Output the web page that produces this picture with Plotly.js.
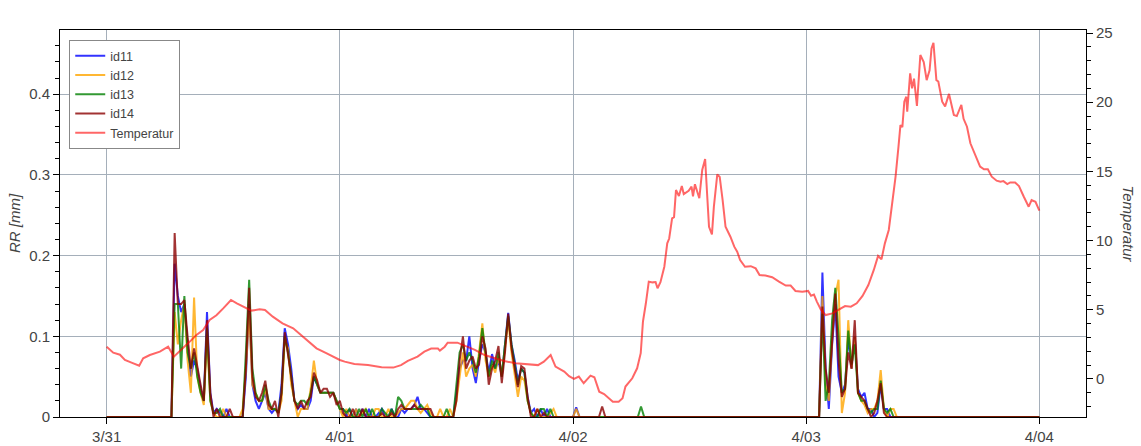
<!DOCTYPE html>
<html>
<head>
<meta charset="utf-8">
<script src="https://cdn.plot.ly/plotly-3.0.1.min.js"></script>
<style>
html, body { margin: 0; padding: 0; background: #fff; }
#chart { width: 1141px; height: 446px; }
</style>
</head>
<body>
<div id="chart"></div>
<script>
// ---- Data (time in hours since 3/31 00:00) ----
const dayTicks = [0, 24, 48, 72, 96];
const dayLabels = ['3/31', '4/01', '4/02', '4/03', '4/04'];

const rainHours = [
  0, 6.67,
  7, 7.33, 7.67, 8, 8.33, 8.67, 9, 9.33, 9.67, 10, 10.33, 10.67, 11, 11.33, 11.67, 12, 12.33, 12.67,
  13, 13.33, 13.67, 14, 14.33, 14.67, 15, 15.33, 15.67, 16, 16.33, 16.67, 17, 17.33, 17.67,
  18, 18.33, 18.67, 19, 19.33, 19.67, 20, 20.33, 20.67, 21, 21.33, 21.67, 22, 22.33, 22.67, 23, 23.33, 23.67, 24,
  24.33, 24.67, 25, 25.33, 25.67, 26, 26.33, 26.67, 27, 27.33, 27.67, 28, 28.33, 28.67, 29, 29.33, 29.67,
  30, 30.33, 30.67, 31, 31.33, 31.67, 32, 32.33, 32.67, 33, 33.33, 33.67, 34, 34.33, 34.67, 35, 35.33, 35.67,
  36, 36.33, 36.67, 37, 37.33, 37.67, 38, 38.33, 38.67, 39, 39.33, 39.67, 40, 40.33, 40.67,
  41, 41.33, 41.67, 42, 42.33, 42.67, 43, 43.33, 43.67, 44, 44.33, 44.67, 45, 45.33, 45.67, 46, 46.33,
  48, 48.33, 48.67, 50.67, 51, 51.33, 54.67, 55, 55.33,
  73.33, 73.67, 74, 74.33, 74.67, 75, 75.33, 75.67, 76, 76.33, 76.67, 77, 77.33, 77.67,
  78, 78.33, 78.67, 79, 79.33, 79.67, 80, 80.33, 80.67, 81, 81.33,
  96
];

const id11 = [
  0, 0,
  .19, .15, .13,  .14, .09, .05,  .07, .06, .035,  .02, .13, .03,  .005, .01, .005,  0, .01, 0,
  0, 0, 0,  0, .05, .14,  .04, .02, .01,  .02, .03, .01,  .005, .01, .005,
  .04, .11, .09,  .06, .02, .01,  .015, .01, .01,  .02, .05, .04,  .03, .03, .03,  .03, .03, .02,  .01,
  .01, 0,  .01, 0, .01,  0, .01, 0,  .01, 0, 0,  .005, .01, 0,  0, .01, 0,
  0, .01, .005,  .01, .01, .015,  .025, .01, .01,  .005, 0, 0,  0, 0, 0,  0, 0, 0,
  .03, .06, .07,  .07, .10, .06,  .042, .07, .09,  .08, .055, .078,  .06, .07, .05,
  .09, .129, .09,  .07, .045, .06,  .055, .025, .005,  .01, 0, .01,  0, .01, 0,  0, 0,
  0, .012, 0,  0, 0, 0,  0, 0, 0,
  0, .179,  .06, .01, .09,  .14, .05, .03,  .04, .10, .06,  .10, .035, .025,
  .03, .01, .01,  0, .005, .04,  .01, .01, 0,  0, 0,
  0
];

const id12 = [
  0, 0,
  .13, .09, .12,  .14, .07, .03,  .148, .05, .03,  .015, .10, .02,  .005, 0, 0,  .01, 0, 0,
  0, 0, 0,  .01, .06, .13,  .04, .03, .02,  .02, .035, .01,  .01, .01, .005,
  .02, .095, .085,  .04, .02, 0,  .01, .01, .01,  .035, .07, .04,  .03, .03, .03,  .03, .03, .02,  .01,
  0, .01,  0, 0, .01,  0, .005, .01,  0, 0, .01,  .01, 0, 0,  .01, 0, 0,
  .005, .01, .01,  .015, .02, .02,  .01, .005, .01,  .015, .005, 0,  0, .01, 0,  0, .01, 0,
  .02, .05, .08,  .05, .06, .065,  .05, .08, .116,  .07, .05, .065,  .055, .075, .05,
  .085, .12, .08,  .055, .025, .05,  .045, .02, .005,  0, .01, 0,  0, 0, .005,  .01, 0,
  0, .01, 0,  0, 0, 0,  0, 0, 0,
  0, .15,  .04, .02, .10,  .15, .17, .005,  .03, .12, .06,  .10, .03, .02,
  .015, .005, .01,  .01, .02, .058,  .01, 0, .01,  .01, 0,
  0
];

const id13 = [
  0, 0,
  .14, .14, .06,  .15, .08, .06,  .08, .05, .03,  .02, .11, .02,  .005, .005, .01,  0, 0, 0,
  0, 0, 0,  0, .08, .17,  .06, .03, .02,  .02, .04, .02,  .01, .01, .005,
  .03, .10, .08,  .05, .02, .015,  .02, .02, .015,  .03, .05, .04,  .03, .03, .03,  .03, .03, .02,  .01,
  .01, .005,  .01, 0, 0,  .01, 0, .01,  0, .01, 0,  0, .01, .005,  0, .01, 0,
  .025, .02, .01,  .01, .01, .01,  .01, .015, .01,  .01, 0, 0,  0, 0, 0,  .01, 0, 0,
  .04, .08, .09,  .07, .08, .07,  .055, .075, .11,  .08, .05, .07,  .06, .08, .05,
  .09, .125, .09,  .065, .04, .06,  .055, .02, .005,  0, 0, .01,  .01, 0, .01,  0, 0,
  0, 0, 0,  0, 0, 0,  0, .013, 0,
  0, .128,  .02, .04, .12,  .16, .10, .03,  .035, .107, .065,  .09, .03, .02,
  .02, .01, .005,  .01, .01, .045,  .01, .005, .01,  0, 0,
  0
];

const id14 = [
  0, 0,
  .228, .14, .14,  .145, .10, .06,  .085, .06, .04,  .02, .12, .03,  0, .01, 0,  0, 0, .01,
  0, 0, 0,  0, .06, .16,  .05, .025, .02,  .03, .045, .015,  .01, .02, 0,
  .03, .105, .08,  .05, .02, .01,  .02, .01, .02,  .025, .055, .045,  .03, .035, .035,  .025, .03, .015,  .02,
  .005, 0,  0, .01, 0,  0, .01, 0,  0, 0, 0,  0, .005, 0,  0, .005, 0,
  .01, .015, .01,  .01, .01, .015,  .01, .01, .01,  .01, .01, 0,  0, 0, 0,  0, 0, 0,
  .02, .07, .10,  .06, .07, .075,  .06, .065, .10,  .085, .04, .06,  .07, .088, .042,
  .08, .128, .085,  .06, .037, .063,  .06, .025, 0,  0, .01, 0,  .005, 0, 0,  0, 0,
  0, 0, 0,  0, .013, 0,  0, 0, 0,
  0, .137,  .06, .03, .10,  .153, .07, .025,  .035, .08, .06,  .12, .03, .025,
  .02, .01, 0,  .005, .02, .042,  .005, 0, 0,  0, 0,
  0
];

const tempHours = [
  0, 0.68, 1.37, 1.88, 2.56, 3.35, 3.76, 4.45, 5.48, 6.33, 6.92, 7.7, 8.56, 9.24, 9.93, 10.6, 11.3, 12.0,
  12.8, 13.4, 14.2, 14.9, 15.75, 16.3, 17.1, 18.1, 19.2, 20.0, 20.7, 21.6, 22.6, 23.3, 24.0,
  24.5, 25.5, 26.9, 28.3, 29.5, 30.3, 31.0, 32.0, 32.7, 33.4, 34.1, 34.3, 34.8, 35.1, 36.1, 36.7,
  37.2, 37.9, 38.9, 39.9, 40.9, 42.1, 43.3, 44.4, 45.0, 45.7, 46.2, 47.1,
  47.6, 48.1, 48.6, 49.1, 49.8, 50.2, 50.7, 51.2, 52.1, 52.7, 53.1, 53.4, 54.1, 54.6, 54.97,
  55.2, 55.5, 55.8, 56.2, 56.5, 56.7, 57.0, 57.4, 57.7, 57.9, 58.2, 58.4, 58.6, 58.9, 59.2, 59.4,
  59.9, 60.2, 60.35, 60.55, 60.8, 61.0, 61.3, 61.6, 61.8, 62.0, 62.3, 62.5, 62.85, 63.1, 63.4, 63.7,
  64.2, 64.6, 64.9, 65.2, 65.7, 66.3, 66.8, 67.2, 67.8, 68.5, 69.2, 69.9, 70.4, 70.9, 71.6, 72.2,
  72.5, 72.8, 73.1, 73.5, 74.0, 74.7, 75.4, 76.0, 76.6, 77.2, 77.8, 78.4, 78.96, 79.4, 79.75,
  80.1, 80.5, 80.8, 81.2, 81.5, 81.7, 81.9, 82.1, 82.3, 82.4, 82.7, 82.9, 83.1, 83.4, 83.75,
  84.1, 84.4, 84.7, 84.9, 85.1, 85.4, 85.6, 86.0, 86.3, 86.7, 87.2, 87.5, 87.97, 88.2, 88.55,
  88.9, 89.4, 89.9, 90.3, 90.7, 91.1, 91.6, 92.0, 92.3, 92.7, 93.0, 93.5, 93.9, 94.4, 94.9,
  95.2, 95.6, 96.0
];

const tempValues = [
  2.33, 1.9, 1.75, 1.37, 1.18, 0.96, 1.49, 1.73, 1.97, 2.33, 1.61, 2.1, 2.7, 3.18, 3.54, 4.26, 4.6, 5.1,
  5.71, 5.47, 5.2, 4.94, 5.03, 4.99, 4.5, 4.02, 3.66, 3.18, 2.7, 2.21, 1.86, 1.61, 1.37,
  1.25, 1.08, 1.0, 0.84, 0.82, 1.0, 1.3, 1.61, 1.97, 2.2, 2.2, 2.05, 2.33, 2.62, 2.62, 2.45,
  2.33, 2.1, 1.73, 1.49, 1.3, 1.13, 1.08, 1.0, 1.25, 1.73, 0.89, 0.53,
  0.2, 0.0, 0.17, -0.31, 0.24, 0.12, -0.92, -1.09, -1.64, -1.64, -1.4, -0.55, 0.05, 0.77, 1.86,
  4.14, 5.47, 7.03, 6.98, 7.0, 6.55, 6.99, 8.11, 9.8, 10.15, 11.61, 11.7, 13.66, 13.22, 13.94, 13.36,
  13.6, 13.9, 13.2, 14.07, 13.55, 13.06, 15.1, 15.9, 13.4, 11.0, 10.45, 12.45, 14.79, 14.6, 12.93, 11.0,
  10.28, 9.56, 9.2, 8.6, 8.11, 8.15, 7.99, 7.51, 7.47, 7.35, 7.03, 6.75, 6.75, 6.36, 6.3, 6.36,
  6.02, 6.1, 5.59, 5.03, 4.62, 4.74, 5.03, 5.27, 5.22, 5.47, 6.0, 6.79, 7.88, 8.89, 8.65,
  9.8, 10.77, 12.45, 14.62, 16.79, 18.35, 18.2, 20.04, 20.4, 19.31, 22.09, 21.0, 21.7, 19.73, 23.41,
  22.9, 21.6, 22.3, 23.89, 24.3, 21.6, 21.5, 20.04, 19.7, 20.6, 19.08, 19.0, 19.8, 18.8, 18.23,
  17.03, 16.2, 15.34, 15.15, 15.15, 14.62, 14.33, 14.26, 14.3, 14.08, 14.2, 14.2, 13.94, 13.17, 12.45,
  12.93, 12.8, 12.16
];

// ---- Chart ----
const FONT = 'Liberation Sans, Arial, Helvetica, sans-serif';
const GRID = '#a5afba';
const TXT = '#444';

function rainTrace(name, y, color) {
  return { x: rainHours, y: y, name: name, type: 'scatter', mode: 'lines',
           line: { color: color, width: 2 }, yaxis: 'y', hoverinfo: 'skip' };
}

const traces = [
  rainTrace('id11', id11, 'rgba(0,0,255,0.8)'),
  rainTrace('id12', id12, 'rgba(255,165,0,0.8)'),
  rainTrace('id13', id13, 'rgba(0,128,0,0.8)'),
  rainTrace('id14', id14, 'rgba(139,0,0,0.8)'),
  { x: tempHours, y: tempValues, name: 'Temperatur', type: 'scatter', mode: 'lines',
    line: { color: 'rgba(255,0,0,0.6)', width: 2 }, yaxis: 'y2', hoverinfo: 'skip' }
];

const layout = {
  width: 1141, height: 446,
  margin: { l: 60, r: 55, t: 30, b: 29, pad: 0 },
  paper_bgcolor: '#fff', plot_bgcolor: '#fff',
  font: { family: FONT, color: TXT },
  showlegend: true,
  legend: {
    x: 0.009, y: 0.974, xanchor: 'left', yanchor: 'top',
    bgcolor: '#fff', bordercolor: '#888', borderwidth: 1,
    font: { family: FONT, size: 12.5, color: TXT },
    tracegroupgap: 0
  },
  xaxis: {
    range: [-4.8, 100.8],
    tickmode: 'array', tickvals: dayTicks, ticktext: dayLabels,
    showgrid: true, gridcolor: GRID, gridwidth: 1, zeroline: false,
    showline: true, linecolor: '#000', linewidth: 1, mirror: true,
    ticks: 'outside', ticklen: 6, tickcolor: '#000',
    tickfont: { family: FONT, size: 15, color: TXT }
  },
  yaxis: {
    range: [0, 0.4796], tick0: 0, dtick: 0.1,
    showgrid: true, gridcolor: GRID, gridwidth: 1, zeroline: false,
    showline: true, linecolor: '#000', linewidth: 1,
    ticks: 'outside', ticklen: 6, tickcolor: '#000',
    minor: { ticks: 'outside', ticklen: 4, dtick: 0.02, tick0: 0, tickcolor: '#000', showgrid: false },
    tickfont: { family: FONT, size: 15, color: TXT },
    title: { text: 'RR [mm]', standoff: 4, font: { family: FONT, size: 15, color: TXT, style: 'italic' } }
  },
  yaxis2: {
    overlaying: 'y', side: 'right',
    range: [-2.75, 25.22], tick0: 0, dtick: 5,
    showgrid: false, zeroline: false,
    showline: true, linecolor: '#000', linewidth: 1,
    ticks: 'outside', ticklen: 6, tickcolor: '#000',
    minor: { ticks: 'outside', ticklen: 4, dtick: 1, tick0: 0, tickcolor: '#000', showgrid: false },
    tickfont: { family: FONT, size: 15, color: TXT }
  },
  annotations: [{
    text: 'Temperatur', xref: 'paper', yref: 'paper', x: 1.041, y: 0.5,
    xanchor: 'center', yanchor: 'middle', textangle: 90, showarrow: false,
    font: { family: FONT, size: 15, color: TXT, style: 'italic' }
  }]
};

Plotly.newPlot('chart', traces, layout, { displayModeBar: false, staticPlot: true });
</script>
</body>
</html>
